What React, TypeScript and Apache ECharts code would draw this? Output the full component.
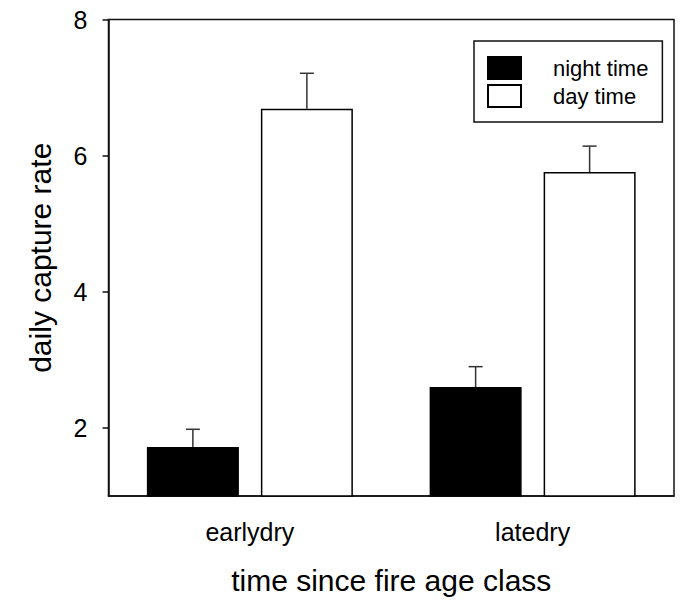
import React, { useEffect, useRef } from "react";
import * as echarts from "echarts";

const categories = ["earlydry", "latedry"];
const nightValues = [1.72, 2.6];
const nightErrors = [0.26, 0.3];
const dayValues = [6.69, 5.76];
const dayErrors = [0.52, 0.38];
const yTicks = [2, 4, 6, 8];
const seriesNames = ["night time", "day time"];

const FONT = "'Liberation Sans', Arial, Helvetica, sans-serif";
const BAR_W = 92;
const BAR_GAP_PX = 22;
const OFFSET = BAR_W / 2 + BAR_GAP_PX / 2;

function errorSeries(values: number[], errors: number[], offset: number) {
  return {
    type: "custom",
    silent: true,
    z: 5,
    renderItem: (params: any, api: any) => {
      const x = api.value(0);
      const v = api.value(1);
      const e = api.value(2);
      const p1 = api.coord([x, v]);
      const p2 = api.coord([x, v + e]);
      const cx = p1[0] + offset;
      const style = { stroke: "#333", lineWidth: 1.5 };
      return {
        type: "group",
        children: [
          { type: "line", shape: { x1: cx, y1: p1[1], x2: cx, y2: p2[1] }, style },
          { type: "line", shape: { x1: cx - 7, y1: p2[1], x2: cx + 7, y2: p2[1] }, style },
        ],
      };
    },
    data: values.map((v, i) => [i, v, errors[i]]),
  };
}

export default function App() {
  const ref = useRef<HTMLDivElement>(null);
  useEffect(() => {
    if (!ref.current) return;
    const chart = echarts.init(ref.current, undefined, { renderer: "svg" });
    chart.setOption({
      animation: false,
      backgroundColor: "#fff",
      textStyle: { fontFamily: FONT },
      grid: {
        left: 108.5,
        right: 11,
        top: 19.5,
        bottom: 100,
        show: true,
        borderColor: "#111",
        borderWidth: 1.5,
        backgroundColor: "transparent",
      },
      legend: {
        data: seriesNames,
        orient: "vertical",
        left: 474,
        top: 41,
        padding: [15, 14, 14, 13],
        itemWidth: 33,
        itemHeight: 22,
        itemGap: 4,
        borderColor: "#111",
        borderWidth: 1.5,
        icon: "rect",
        textStyle: {
          fontFamily: FONT,
          fontSize: 22,
          color: "#000",
          padding: [0, 0, 0, 27],
          width: 98,
        },
      },
      xAxis: {
        type: "category",
        data: categories,
        name: "time since fire age class",
        nameLocation: "middle",
        nameGap: 69,
        nameTextStyle: { fontFamily: FONT, fontSize: 30, color: "#000" },
        axisLine: { lineStyle: { color: "#111", width: 1.5 } },
        axisTick: { alignWithLabel: true, length: 7, lineStyle: { color: "#111", width: 1.5 } },
        axisLabel: { fontFamily: FONT, fontSize: 25, color: "#000", margin: 23 },
        splitLine: { show: false },
      },
      yAxis: {
        type: "value",
        min: 1,
        max: 8,
        name: "daily capture rate",
        nameLocation: "middle",
        nameGap: 53,
        nameTextStyle: { fontFamily: FONT, fontSize: 30, color: "#000" },
        axisLine: { show: true, lineStyle: { color: "#111", width: 1.5 } },
        axisTick: { show: true, length: 6, customValues: yTicks, lineStyle: { color: "#111", width: 1.5 } },
        axisLabel: { fontFamily: FONT, fontSize: 25, color: "#000", margin: 21, customValues: yTicks },
        splitLine: { show: false },
      },
      series: [
        {
          name: seriesNames[0],
          type: "bar",
          data: nightValues,
          barWidth: BAR_W,
          barGap: `${(BAR_GAP_PX / BAR_W) * 100}%`,
          itemStyle: { color: "#000", borderColor: "#000", borderWidth: 1.5 },
        },
        {
          name: seriesNames[1],
          type: "bar",
          data: dayValues,
          barWidth: BAR_W,
          barGap: `${(BAR_GAP_PX / BAR_W) * 100}%`,
          itemStyle: { color: "#fff", borderColor: "#000", borderWidth: 1.5 },
        },
        errorSeries(nightValues, nightErrors, -OFFSET),
        errorSeries(dayValues, dayErrors, OFFSET),
      ],
    });
    return () => chart.dispose();
  }, []);
  return (
    <div
      ref={ref}
      style={{ position: "fixed", left: 0, top: 0, width: 685, height: 600, background: "#fff" }}
    />
  );
}
